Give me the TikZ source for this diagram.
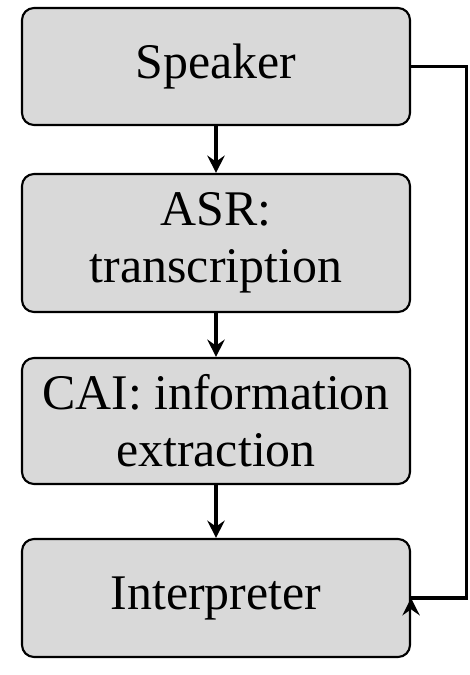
\documentclass[tikz,border=0pt]{standalone}
\usepackage{fontspec}
\setmainfont{Liberation Serif}
\usetikzlibrary{arrows.meta}
\definecolor{boxgray}{RGB}{217,217,217}
\begin{document}
\begin{tikzpicture}[x=0.75pt,y=-0.75pt,
  box/.style={draw=black, line width=1.6pt, fill=boxgray, rounded corners=9pt,
    minimum width=291pt, align=center, inner sep=0pt,
    font=\fontsize{37.4}{43}\selectfont},
  conn/.style={line width=2.6pt, -{Stealth[length=13pt,width=13pt,inset=4.5pt]}},
  plain/.style={line width=2.6pt}]
\useasboundingbox (0,0) rectangle (469,675);
\node[box, minimum height=87.75pt] (speaker) at (216,66.5) {Speaker};
\node[box, minimum height=103.5pt] (asr) at (216,243) {ASR:\\transcription};
\node[box, minimum height=94.5pt] (cai) at (216,421) {CAI: information\\extraction};
\node[box, minimum height=88.5pt] (interp) at (216,598) {Interpreter};
\draw[conn] (speaker) -- (asr);
\draw[conn] (asr) -- (cai);
\draw[conn] (cai) -- (interp);
\coordinate (turn) at (466.5,0);
\draw[plain] (speaker.east) -- (speaker.east -| turn) -- (interp.east -| turn) -- (interp.east);
\draw[conn] ([yshift=-3pt]interp.east) -- (interp.east);
\end{tikzpicture}
\end{document}
